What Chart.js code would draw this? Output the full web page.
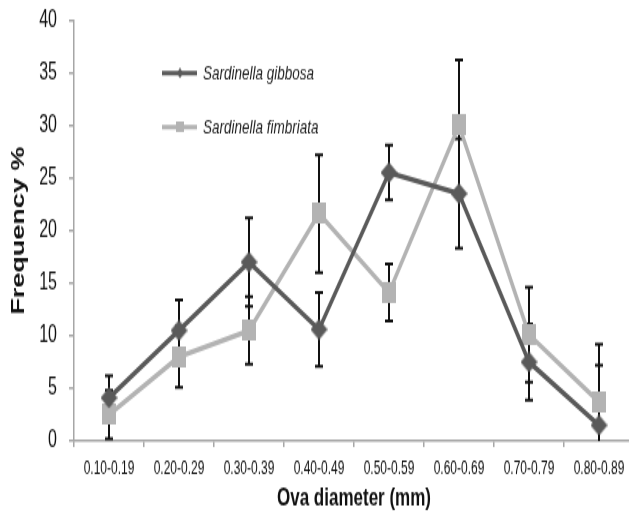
<!DOCTYPE html>
<html>
<head>
<meta charset="utf-8">
<script src="https://cdn.jsdelivr.net/npm/chart.js@4/dist/chart.umd.min.js"></script>
<style>
html,body{margin:0;padding:0;background:#fff;overflow:hidden;width:629px;height:516px;}
canvas{display:block;transform:scale(1,1.5);transform-origin:0 0;}
</style>
</head>
<body>
<canvas id="c" width="640" height="344"></canvas>
<script>
// ---- data ----
const categories = ['0.10-0.19','0.20-0.29','0.30-0.39','0.40-0.49','0.50-0.59','0.60-0.69','0.70-0.79','0.80-0.89'];
const gibbosa     = [4.1, 10.5, 17.0, 10.6, 25.5, 23.5, 7.5, 1.5];
const gibbosaErr  = [2.1, 2.9, 4.2, 3.5, 2.6, 5.2, 3.6, 5.7];
const fimbriata   = [2.5, 8.0, 10.5, 21.6, 14.1, 30.0, 10.1, 3.7];
const fimbriataErr= [2.3, 2.9, 3.2, 5.6, 2.7, 6.2, 4.5, 5.5];
const seriesNames = ['Sardinella gibbosa', 'Sardinella fimbriata'];

const DARK = '#5a5a5a';
const LIGHT = '#b3b3b3';
const SANS = "'Liberation Sans', Arial, sans-serif";

function diamond(w, h, color) {
  const c = document.createElement('canvas');
  c.width = w; c.height = h;
  const x = c.getContext('2d');
  x.fillStyle = color;
  x.beginPath();
  x.moveTo(w/2, 0); x.lineTo(w, h/2); x.lineTo(w/2, h); x.lineTo(0, h/2);
  x.closePath(); x.fill();
  return c;
}
function box(w, h, color) {
  const c = document.createElement('canvas');
  c.width = w; c.height = h;
  const x = c.getContext('2d');
  x.fillStyle = color;
  x.fillRect(0, 0, w, h);
  return c;
}

const errorBars = {
  id: 'errorBars',
  beforeDatasetsDraw(chart) {
    const {ctx, chartArea, scales} = chart;
    const errs = [gibbosaErr, fimbriataErr];
    ctx.save();
    ctx.beginPath();
    ctx.rect(chartArea.left, chartArea.top, chartArea.right - chartArea.left, chartArea.bottom - chartArea.top);
    ctx.clip();
    ctx.strokeStyle = '#111';
    ctx.lineWidth = 2;
    chart.data.datasets.forEach((ds, di) => {
      ds.data.forEach((v, i) => {
        const x = scales.x.getPixelForValue(i);
        const yTop = scales.y.getPixelForValue(v + errs[di][i]);
        const yBot = scales.y.getPixelForValue(v - errs[di][i]);
        ctx.beginPath();
        ctx.moveTo(x, yTop); ctx.lineTo(x, yBot);
        ctx.moveTo(x - 4, yTop); ctx.lineTo(x + 4, yTop);
        ctx.moveTo(x - 4, yBot); ctx.lineTo(x + 4, yBot);
        ctx.stroke();
      });
    });
    ctx.restore();
  }
};

const legendInside = {
  id: 'legendInside',
  afterDraw(chart) {
    const {ctx} = chart;
    const items = [
      {y: 48.7, color: DARK, marker: diamond(6, 7, DARK)},
      {y: 84.7, color: LIGHT, marker: box(8, 7, LIGHT)}
    ];
    ctx.save();
    items.forEach((it, k) => {
      ctx.strokeStyle = it.color;
      ctx.lineWidth = 3;
      ctx.beginPath();
      ctx.moveTo(162, it.y); ctx.lineTo(197, it.y);
      ctx.stroke();
      ctx.drawImage(it.marker, 180 - it.marker.width/2, it.y - it.marker.height/2);
      ctx.fillStyle = '#222';
      ctx.font = 'italic 13.5px ' + SANS;
      ctx.textBaseline = 'middle';
      ctx.textAlign = 'left';
      ctx.fillText(seriesNames[k], 203, it.y + 0.5);
    });
    ctx.restore();
  }
};

new Chart(document.getElementById('c'), {
  type: 'line',
  data: {
    labels: categories,
    datasets: [
      {
        label: seriesNames[0],
        data: gibbosa,
        borderColor: DARK,
        backgroundColor: DARK,
        borderWidth: 3.5,
        pointStyle: diamond(17, 14, DARK),
        pointRadius: 9,
        tension: 0
      },
      {
        label: seriesNames[1],
        data: fimbriata,
        borderColor: LIGHT,
        backgroundColor: LIGHT,
        borderWidth: 3.5,
        pointStyle: box(14, 14, LIGHT),
        pointRadius: 9,
        tension: 0
      }
    ]
  },
  options: {
    responsive: false,
    animation: false,
    devicePixelRatio: 1,
    layout: {autoPadding: false, padding: {top: 13.33, right: 6, left: 0, bottom: 0}},
    plugins: {legend: {display: false}, tooltip: {enabled: false}},
    scales: {
      x: {
        offset: true,
        grid: {offset: true, drawOnChartArea: false, drawTicks: true, tickLength: 4, color: '#a6a6a6', lineWidth: 1.5},
        border: {color: '#a6a6a6', width: 1.5},
        ticks: {color: '#111', font: {family: SANS, size: 12}, padding: 7, maxRotation: 0, autoSkip: false},
        title: {display: true, text: 'Ova diameter (mm)', color: '#111', font: {family: SANS, size: 17, weight: 'bold'}, padding: {top: 0, bottom: 1}},
        afterFit(s) { s.height = 50; s.paddingLeft = 0; s.paddingRight = 0; }
      },
      y: {
        min: 0, max: 40,
        ticks: {stepSize: 5, color: '#111', font: {family: SANS, size: 16}, padding: 12},
        grid: {drawOnChartArea: false, drawTicks: true, tickLength: 5, color: '#a6a6a6', lineWidth: 1.5},
        border: {color: '#a6a6a6', width: 1.5},
        title: {display: true, text: 'Frequency %', color: '#111', font: {family: SANS, size: 18, weight: 'bold'}, padding: {top: 8, bottom: 0}},
        afterFit(s) { s.width = 74; s.paddingTop = 0; s.paddingBottom = 0; }
      }
    }
  },
  plugins: [errorBars, legendInside]
});
</script>
</body>
</html>
